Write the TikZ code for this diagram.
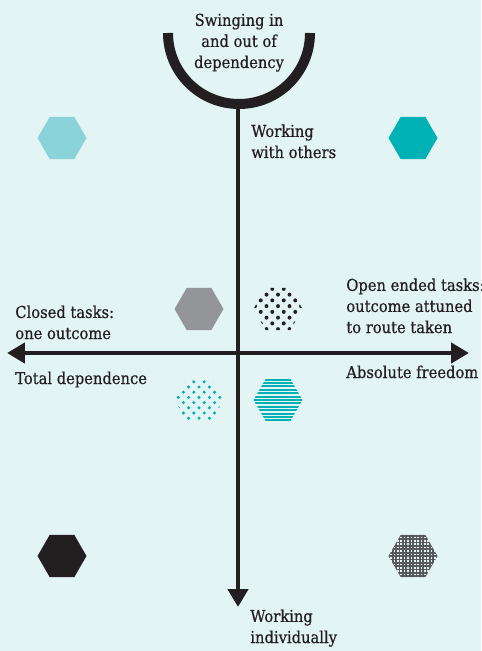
\documentclass[tikz,border=0pt]{standalone}
\usepackage{fontspec}
\setmainfont{DejaVu Serif Condensed}[FakeBold=0.6]
\usetikzlibrary{arrows.meta, shapes.geometric}

\definecolor{bgcyan}{HTML}{E3F4F5}
\definecolor{inkblack}{HTML}{231F20}
\definecolor{paleteal}{HTML}{8AD3D8}
\definecolor{deepteal}{HTML}{00B1B5}
\definecolor{midgray}{HTML}{939598}
\definecolor{checkgray}{HTML}{58595B}

\tikzset{
  hex/.style={regular polygon, regular polygon sides=6, minimum size=0.98cm, inner sep=0pt},
  axis/.style={inkblack, line width=0.095cm},
  label/.style={inkblack, align=left, anchor=base west, inner sep=0pt},
  % colour, dot spacing, dot radius
  dothex/.style n args={3}{hex, path picture={
    \foreach \i in {-4,...,4} \foreach \j in {-4,...,4} {
      \fill[#1] ([shift={(\i*2*#2, \j*2*#2+0.5*#2)}]path picture bounding box.center) circle (#3);
      \fill[#1] ([shift={(\i*2*#2+#2, \j*2*#2-0.5*#2)}]path picture bounding box.center) circle (#3);
    }}},
  stripehex/.style={hex, path picture={
    \foreach \k in {-7,...,7}
      \fill[#1] ([shift={(-1cm, \k*0.068cm-0.02cm)}]path picture bounding box.center) rectangle ++(2cm, 0.04cm);
    }},
  checkhex/.style={hex, path picture={
    \draw[#1, line width=0.034cm] ([shift={(-1cm,-1cm)}]path picture bounding box.center) grid[step=0.067cm] ++(2cm,2cm);
    }}
}

\begin{document}
\begin{tikzpicture}[x=0.02cm, y=-0.02cm, >={Triangle[length=0.36cm, width=0.4cm]},
  font=\fontsize{9.3}{12}\selectfont]

\fill[bgcyan] (0,0) rectangle (481,651);
\useasboundingbox (0,0) rectangle (481,651);

% the swing at the top
\draw[inkblack, line width=0.2cm] (168,33) arc[start angle=180, end angle=0, radius=71];
\node[inkblack, align=center, anchor=base, inner sep=0pt] (swing) at (239,68) {Swinging in\\and out of\\dependency};

% axes
\coordinate (arcbot) at (238,100);
\coordinate (downtip) at (238,607);
\coordinate (lefttip) at (7,353);
\coordinate (righttip) at (469,353);
\draw[axis, ->] (arcbot) -- (downtip);
\draw[axis, <->] (lefttip) -- (righttip);

% axis texts (anchored at the last line)
\node[label] (others) at (251,158) {Working\\with others};
\node[label] (individually) at (250,643) {Working\\individually};
\node[label] (closed) at (15,339) {Closed tasks:\\one outcome};
\node[label] (totaldep) at (15,384) {Total dependence};
\node[label] (open) at (346,333) {Open ended tasks:\\outcome attuned\\to route taken};
\node[label] (freedom) at (346,378) {Absolute freedom};

% hexagons
\node[hex, fill=paleteal] (palehex) at (62,138) {};
\node[hex, fill=deepteal] (tealhex) at (413,138) {};
\node[hex, fill=midgray] (grayhex) at (199,309) {};
\node[dothex={inkblack}{0.115cm}{0.04cm}] (blackdothex) at (278,309) {};
\node[dothex={deepteal}{0.104cm}{0.034cm}] (tealdothex) at (199,400) {};
\node[stripehex=deepteal] (stripedhex) at (278,400) {};
\node[hex, fill=inkblack] (blackhex) at (62,556) {};
\node[checkhex=checkgray] (checkedhex) at (413,556) {};

\end{tikzpicture}
\end{document}
